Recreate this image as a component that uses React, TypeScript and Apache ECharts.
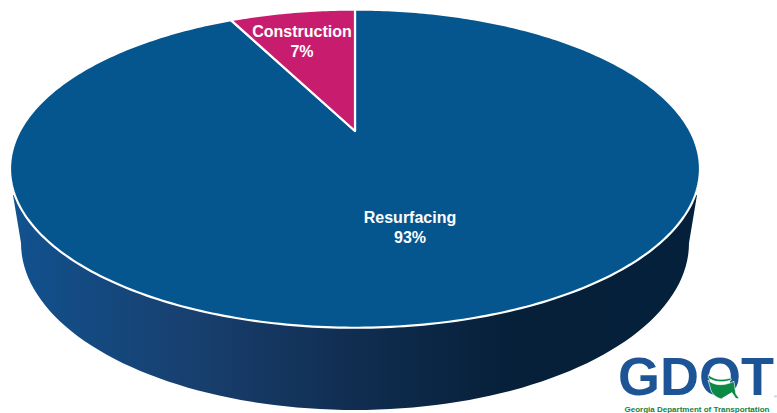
import React, { useEffect, useRef } from "react";
import * as echarts from "echarts";

const categories = ["Resurfacing", "Construction"];
const shares = [92.6, 7.4];
const sliceColors = ["#05568F", "#C81D6E"];
const labelAnchors = [[410, 227], [302, 41.5]];

const W = 777, H = 413;
// Perspective disc: unit circle is projected so the centre sits above the middle of the ellipse
const APEX_X = 355, APEX_Y = 131;
const K = 75 / 317, BV = 150.2, CU = 335.2;
const project = (u: number, v: number, r = 1) => {
  const d = 1 + K * r * v;
  return [APEX_X + (CU * r * u) / d, APEX_Y - (BV * r * v) / d];
};

const GREEN_BODY =
  "M84 90 C100 106 130 110 162 94 C164 110 166 122 168 132 L178 146 L168 146 L156 128 C146 133 136 140 124 147 C108 143 96 132 92 118 C90 108 87 100 84 90 Z " +
  "M85 74 C100 88 125 92 152 84 L154 90 C125 100 100 95 85 84 Z";
echarts.graphic.registerShape("gaGreen", echarts.graphic.extendPath(GREEN_BODY, {}) as any);

export default function App() {
  const ref = useRef<HTMLDivElement>(null);
  useEffect(() => {
    document.body.style.margin = "0";
    const chart = echarts.init(ref.current!, undefined, { renderer: "svg" });
    const total = shares.reduce((a, b) => a + b, 0);

    const renderWall = () => {
      const pts: number[][] = [[13, 195]];
      for (let a = 180; a >= 0; a -= 2) {
        const t = (a * Math.PI) / 180;
        pts.push([355 + 334 * Math.cos(t), 243 + 167 * Math.sin(t)]);
      }
      pts.push([697, 195]);
      return {
        type: "polygon",
        shape: { points: pts },
        style: {
          fill: new echarts.graphic.LinearGradient(0, 0, 1, 0, [
            { offset: 0, color: "#115290" },
            { offset: 0.08, color: "#134c84" },
            { offset: 0.27, color: "#183f6e" },
            { offset: 0.5, color: "#102d50" },
            { offset: 0.72, color: "#07203a" },
            { offset: 1, color: "#05203a" },
          ]),
        },
      };
    };

    const renderSlice = (params: any, api: any) => {
      const i = params.dataIndex;
      let before = 0;
      for (let j = 0; j < i; j++) before += shares[j];
      const start = (before / total) * 2 * Math.PI;
      const sweep = (api.value(0) / total) * 2 * Math.PI;
      const steps = Math.max(4, Math.ceil(sweep / 0.015));
      const pts: number[][] = [[APEX_X, APEX_Y]];
      for (let s = 0; s <= steps; s++) {
        const t = start + (sweep * s) / steps;
        pts.push(project(Math.sin(t), Math.cos(t)));
      }
      return {
        type: "polygon",
        shape: { points: pts },
        style: { fill: sliceColors[i], stroke: "#ffffff", lineWidth: 2.2, lineJoin: "round" },
      };
    };

    const renderLabel = (params: any, api: any) => {
      const i = params.dataIndex;
      const pct = `${Math.round((api.value(0) / total) * 100)}%`;
      return {
        type: "text",
        style: {
          text: `${categories[i]}\n${pct}`,
          x: labelAnchors[i][0],
          y: labelAnchors[i][1],
          align: "center",
          verticalAlign: "middle",
          fill: "#ffffff",
          font: 'bold 16px "Liberation Sans", Arial, sans-serif',
          lineHeight: 20,
        },
      };
    };

    const data = categories.map((name, i) => ({ name, value: shares[i] }));

    chart.setOption({
      animation: false,
      backgroundColor: "#ffffff",
      series: [
        { type: "custom", coordinateSystem: "none", silent: true, z: 1, renderItem: renderWall, data: [data[0]] },
        { type: "custom", coordinateSystem: "none", silent: true, z: 2, renderItem: renderSlice, data },
        { type: "custom", coordinateSystem: "none", silent: true, z: 3, renderItem: renderLabel, data },
      ],
      graphic: [
        {
          type: "text", z: 10, x: 618, y: 376,
          style: {
            text: "GDOT", fill: "#1D5496", verticalAlign: "middle", align: "left",
            font: 'bold 54px "Liberation Sans", Arial, sans-serif',
          },
        },
        {
          type: "gaGreen", z: 11, x: 680, y: 350, scaleX: 1 / 3, scaleY: 1 / 3,
          style: { fill: "#0B8A45", stroke: "#ffffff", lineWidth: 2 },
        },
        {
          type: "text", z: 10, x: 774, y: 394,
          style: { text: "®", fill: "#6b7f95", font: '4px "Liberation Sans", Arial, sans-serif' },
        },
        {
          type: "text", z: 10, x: 697, y: 409,
          style: {
            text: "Georgia Department of Transportation", fill: "#17803f", align: "center",
            verticalAlign: "middle", font: 'bold 8px "Liberation Sans", Arial, sans-serif',
          },
        },
      ],
    });
    return () => chart.dispose();
  }, []);
  return <div ref={ref} style={{ position: "absolute", left: 0, top: 0, width: W, height: H }} />;
}
